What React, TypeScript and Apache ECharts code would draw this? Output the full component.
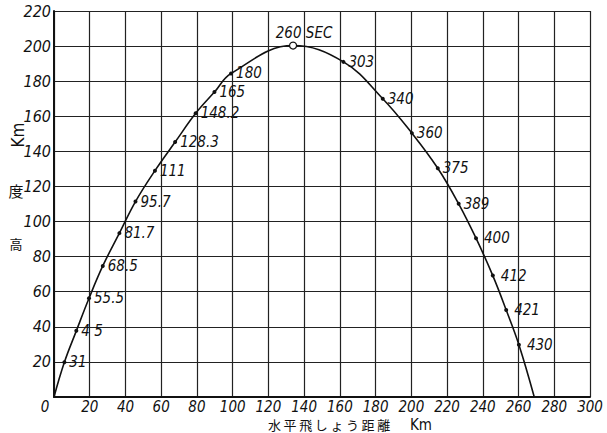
import React, { useEffect, useRef } from 'react';
import * as echarts from 'echarts';

// Horizontal distance (km) and altitude (km) of the marked points, with elapsed time labels (sec)
const distanceKm = [5.8, 12.5, 19.6, 27.3, 36.6, 45.6, 56.5, 67.8, 79.3, 89.8, 99.1, 133.8, 162, 184, 200.3, 214.8, 226.5, 236.2, 245.6, 253.1, 260.2];
const altitudeKm = [19.8, 37.7, 56.3, 74.7, 93.4, 111.4, 129, 145.3, 161.7, 173.8, 184.4, 200.3, 191, 170, 150.4, 130.4, 110.1, 90.5, 69.2, 49.6, 29.8];
const timeLabels = ['31', '4 5', '55.5', '68.5', '81.7', '95.7', '111', '128.3', '148.2', '165', '180', '260 SEC', '303', '340', '360', '375', '389', '400', '412', '421', '430'];
const apexIndex = 11;
const launchPoint = [0, 0];
const impactPoint = [268.8, 0];
const impactLabel = '440 SEC';

const xTitle = '水\u2009平\u2009飛\u2009し\u2009ょ\u2009う\u2009距\u2009離';
const unitTitle = 'Km';
const yTitleChars = ['高', '度'];

const NUM_FONT = '"Liberation Sans Narrow", "DejaVu Sans Condensed", "Arial Narrow", sans-serif';
const CJK_FONT = '"Noto Sans CJK JP", sans-serif';

export default function App() {
  const ref = useRef<HTMLDivElement>(null);
  useEffect(() => {
    if (!ref.current) return;
    const chart = echarts.init(ref.current, null, { renderer: 'svg' });
    const labelStyle = {
      fontFamily: NUM_FONT,
      fontStyle: 'italic' as const,
      fontSize: 15,
      color: '#111',
    };
    const points: any[] = [
      { value: launchPoint, symbol: 'none', label: { show: false } },
    ];
    distanceKm.forEach((x, i) => {
      const isApex = i === apexIndex;
      points.push({
        value: [x, altitudeKm[i]],
        symbol: 'circle',
        symbolSize: isApex ? 7 : 4,
        itemStyle: isApex
          ? { color: '#fff', borderColor: '#111', borderWidth: 1.2 }
          : { color: '#111' },
        label: isApex
          ? { show: true, formatter: timeLabels[i], position: 'top', distance: 1, offset: [11, 0], ...labelStyle }
          : { show: true, formatter: timeLabels[i], position: 'right', distance: i >= 17 ? 6 : 3, ...labelStyle },
      });
    });
    points.push({
      value: impactPoint,
      symbol: 'none',
      label: { show: true, formatter: impactLabel, position: 'right', distance: 8, offset: [0, -9], ...labelStyle, fontSize: 14 },
    });

    chart.setOption({
      animation: false,
      backgroundColor: '#fff',
      grid: { left: 54, right: 17, top: 11, bottom: 36, containLabel: false },
      xAxis: {
        type: 'value',
        min: 0,
        max: 300,
        interval: 20,
        axisLine: { show: true, onZero: false, lineStyle: { color: '#111', width: 2 } },
        axisTick: { show: false },
        splitLine: { show: true, lineStyle: { color: '#222', width: 1.2 } },
        axisLabel: {
          margin: 2,
          fontFamily: NUM_FONT,
          fontStyle: 'italic',
          fontSize: 15,
          color: '#111',
          formatter: (v: number) => (v === 0 ? '{z|0}' : String(v)),
          rich: { z: { fontFamily: NUM_FONT, fontStyle: 'italic', fontSize: 15, color: '#111', padding: [0, 18, 0, 0] } },
        },
      },
      yAxis: {
        type: 'value',
        min: 0,
        max: 220,
        interval: 20,
        axisLine: { show: true, onZero: false, lineStyle: { color: '#111', width: 2 } },
        axisTick: { show: false },
        splitLine: { show: true, lineStyle: { color: '#222', width: 1.2 } },
        axisLabel: {
          margin: 3,
          showMinLabel: false,
          fontFamily: NUM_FONT,
          fontStyle: 'italic',
          fontSize: 16,
          color: '#111',
        },
      },
      series: [
        {
          type: 'line',
          data: points,
          smooth: 0.4,
          lineStyle: { color: '#111', width: 1.6 },
          itemStyle: { color: '#111' },
          z: 3,
        },
      ],
      graphic: [
        {
          type: 'text',
          left: 268,
          top: 418,
          style: { text: xTitle, fontFamily: CJK_FONT, fontSize: 13, fill: '#111' },
        },
        {
          type: 'text',
          left: 410,
          top: 417,
          style: { text: unitTitle, fontFamily: NUM_FONT, fontSize: 15, fill: '#111' },
        },
        {
          type: 'text',
          x: 16,
          y: 243,
          style: { text: yTitleChars[0], fontFamily: CJK_FONT, fontSize: 13, fill: '#111', align: 'center', verticalAlign: 'middle' },
        },
        {
          type: 'text',
          x: 16,
          y: 190,
          style: { text: yTitleChars[1], fontFamily: CJK_FONT, fontSize: 15, fill: '#111', align: 'center', verticalAlign: 'middle' },
        },
        {
          type: 'text',
          x: 18,
          y: 135,
          rotation: Math.PI / 2,
          style: { text: unitTitle, fontFamily: NUM_FONT, fontSize: 17, fill: '#111', align: 'center', verticalAlign: 'middle' },
        },
      ],
    });
    return () => chart.dispose();
  }, []);
  return <div ref={ref} style={{ position: 'fixed', left: 0, top: 0, width: 607, height: 433 }} />;
}
